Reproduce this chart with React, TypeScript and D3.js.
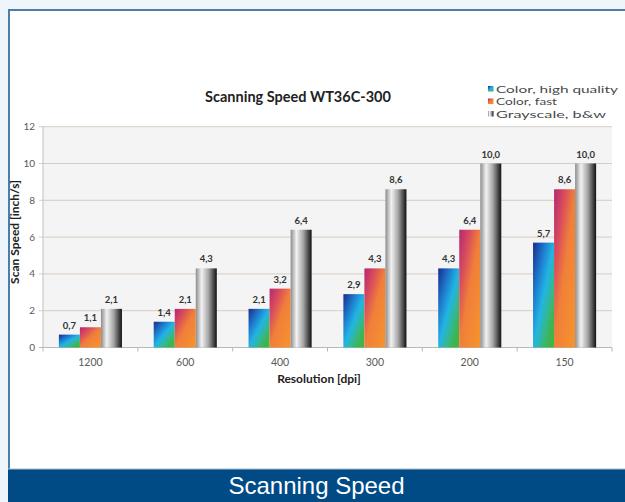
import React from "react";
import * as d3 from "d3";

const categories = ["1200", "600", "400", "300", "200", "150"];
const seriesNames = ["Color, high quality", "Color, fast", "Grayscale, b&w"];
const colorHighQuality = [0.7, 1.4, 2.1, 2.9, 4.3, 5.7];
const colorFast = [1.1, 2.1, 3.2, 4.3, 6.4, 8.6];
const grayscale = [2.1, 4.3, 6.4, 8.6, 10.0, 10.0];
const yTicks = [0, 2, 4, 6, 8, 10, 12];

const W = 625;
const H = 502;
const plot = { left: 43, right: 612, top: 126.7, bottom: 347.5 };
const chartFont = "Lato, 'Open Sans', sans-serif";
const legendWidths = [122, 61, 110];

export default function App() {
  const series = [colorHighQuality, colorFast, grayscale];
  const x = d3
    .scaleBand<string>()
    .domain(categories)
    .range([plot.left, plot.right])
    .paddingInner(0.335)
    .paddingOuter(0.1675);
  const xs = d3
    .scaleBand<number>()
    .domain([0, 1, 2])
    .range([0, x.bandwidth()]);
  const y = d3.scaleLinear().domain([0, 12]).range([plot.bottom, plot.top]);
  const fmt = (v: number) => v.toFixed(1).replace(".", ",");
  const grads = ["g-hq", "g-fast", "g-gray"];
  const step = x.step();

  return (
    <svg
      width={W}
      height={H}
      style={{ position: "absolute", left: 0, top: 0 }}
      xmlns="http://www.w3.org/2000/svg"
    >
      <defs>
        <linearGradient id="g-hq" x1="0" y1="0" x2="1" y2="1">
          <stop offset="0" stopColor="#1a2b8c" />
          <stop offset="0.3" stopColor="#1e7fd0" />
          <stop offset="0.5" stopColor="#22b4e4" />
          <stop offset="0.7" stopColor="#35b88a" />
          <stop offset="0.85" stopColor="#3db54a" />
          <stop offset="1" stopColor="#3db54a" />
        </linearGradient>
        <linearGradient id="g-fast" x1="0" y1="0" x2="1" y2="1">
          <stop offset="0" stopColor="#b52872" />
          <stop offset="0.25" stopColor="#d84a5e" />
          <stop offset="0.5" stopColor="#f07f3a" />
          <stop offset="1" stopColor="#f7942c" />
        </linearGradient>
        <linearGradient id="g-gray" x1="0" y1="0" x2="1" y2="0">
          <stop offset="0" stopColor="#8c8c8c" />
          <stop offset="0.28" stopColor="#f2f2f2" />
          <stop offset="0.6" stopColor="#a6a6a6" />
          <stop offset="1" stopColor="#111111" />
        </linearGradient>
      </defs>

      {/* page background */}
      <rect x={0} y={0} width={W} height={H} fill="#eef6fc" />
      {/* panel */}
      <rect x={9} y={10} width={W} height={460} fill="#ffffff" stroke="#4d7eab" strokeWidth={2} />
      {/* bottom band */}
      <rect x={8} y={469} width={W - 8} height={H - 469} fill="#004b86" />
      <line x1={8} x2={W} y1={469} y2={469} stroke="#a9bccf" strokeWidth={1} />
      <text
        x={316.5}
        y={494}
        textAnchor="middle"
        fill="#ffffff"
        fontFamily="'Liberation Sans', Arial, sans-serif"
        fontSize={24}
      >
        Scanning Speed
      </text>

      {/* plot area */}
      <rect
        x={plot.left}
        y={plot.top}
        width={plot.right - plot.left}
        height={plot.bottom - plot.top}
        fill="#f4f4f4"
      />
      {yTicks.map((t) => (
        <g key={t}>
          <line
            x1={plot.left - 4}
            x2={plot.right}
            y1={y(t)}
            y2={y(t)}
            stroke={t === 0 ? "#b8b8b8" : "#d8cdc2"}
            strokeWidth={1}
          />
          <text
            x={35}
            y={y(t)}
            dy="0.35em"
            textAnchor="end"
            fontFamily={chartFont}
            fontSize={10}
            fill="#595959"
          >
            {t}
          </text>
        </g>
      ))}
      <line x1={plot.left} x2={plot.left} y1={plot.top} y2={plot.bottom} stroke="#c0c0c0" />
      {categories.map((c, i) => (
        <line
          key={"tk" + c}
          x1={plot.left + step * (i + 1)}
          x2={plot.left + step * (i + 1)}
          y1={plot.bottom}
          y2={plot.bottom + 4}
          stroke="#b8b8b8"
        />
      ))}
      <line x1={plot.left} x2={plot.left} y1={plot.bottom} y2={plot.bottom + 4} stroke="#b8b8b8" />

      {/* bars */}
      {categories.map((c, i) => (
        <g key={c}>
          {series.map((s, k) => {
            const bx = (x(c) as number) + (xs(k) as number);
            const by = y(s[i]);
            return (
              <g key={k}>
                <rect
                  x={bx}
                  y={by}
                  width={xs.bandwidth()}
                  height={plot.bottom - by}
                  fill={`url(#${grads[k]})`}
                />
                <text
                  x={bx + xs.bandwidth() / 2}
                  y={by - 6}
                  textAnchor="middle"
                  fontFamily={chartFont}
                  fontWeight="bold"
                  fontSize={9.5}
                  fill="#333333"
                >
                  {fmt(s[i])}
                </text>
              </g>
            );
          })}
          <text
            x={(x(c) as number) + x.bandwidth() / 2}
            y={366}
            textAnchor="middle"
            fontFamily={chartFont}
            fontSize={10.5}
            fill="#595959"
          >
            {c}
          </text>
        </g>
      ))}

      {/* titles */}
      <text
        x={298}
        y={102}
        textAnchor="middle"
        fontFamily={chartFont}
        fontWeight="bold"
        fontSize={14.5}
        fill="#222222"
      >
        Scanning Speed WT36C-300
      </text>
      <text
        x={319}
        y={383}
        textAnchor="middle"
        fontFamily={chartFont}
        fontWeight="bold"
        fontSize={12}
        fill="#222222"
      >
        Resolution [dpi]
      </text>
      <text
        transform="translate(19,232) rotate(-90)"
        textAnchor="middle"
        fontFamily={chartFont}
        fontWeight="bold"
        fontSize={12}
        fill="#222222"
      >
        Scan Speed [inch/s]
      </text>

      {/* legend */}
      {seriesNames.map((n, k) => (
        <g key={n} transform={`translate(488,${89 + k * 12.5})`}>
          <rect x={0} y={-3} width={5.5} height={5.5} fill={`url(#${grads[k]})`} />
          <text
            x={8}
            y={0}
            dy="0.35em"
            fontFamily={chartFont}
            fontSize={10}
            fill="#4a4a4a"
            textLength={legendWidths[k]}
            lengthAdjust="spacingAndGlyphs"
          >
            {n}
          </text>
        </g>
      ))}
    </svg>
  );
}
